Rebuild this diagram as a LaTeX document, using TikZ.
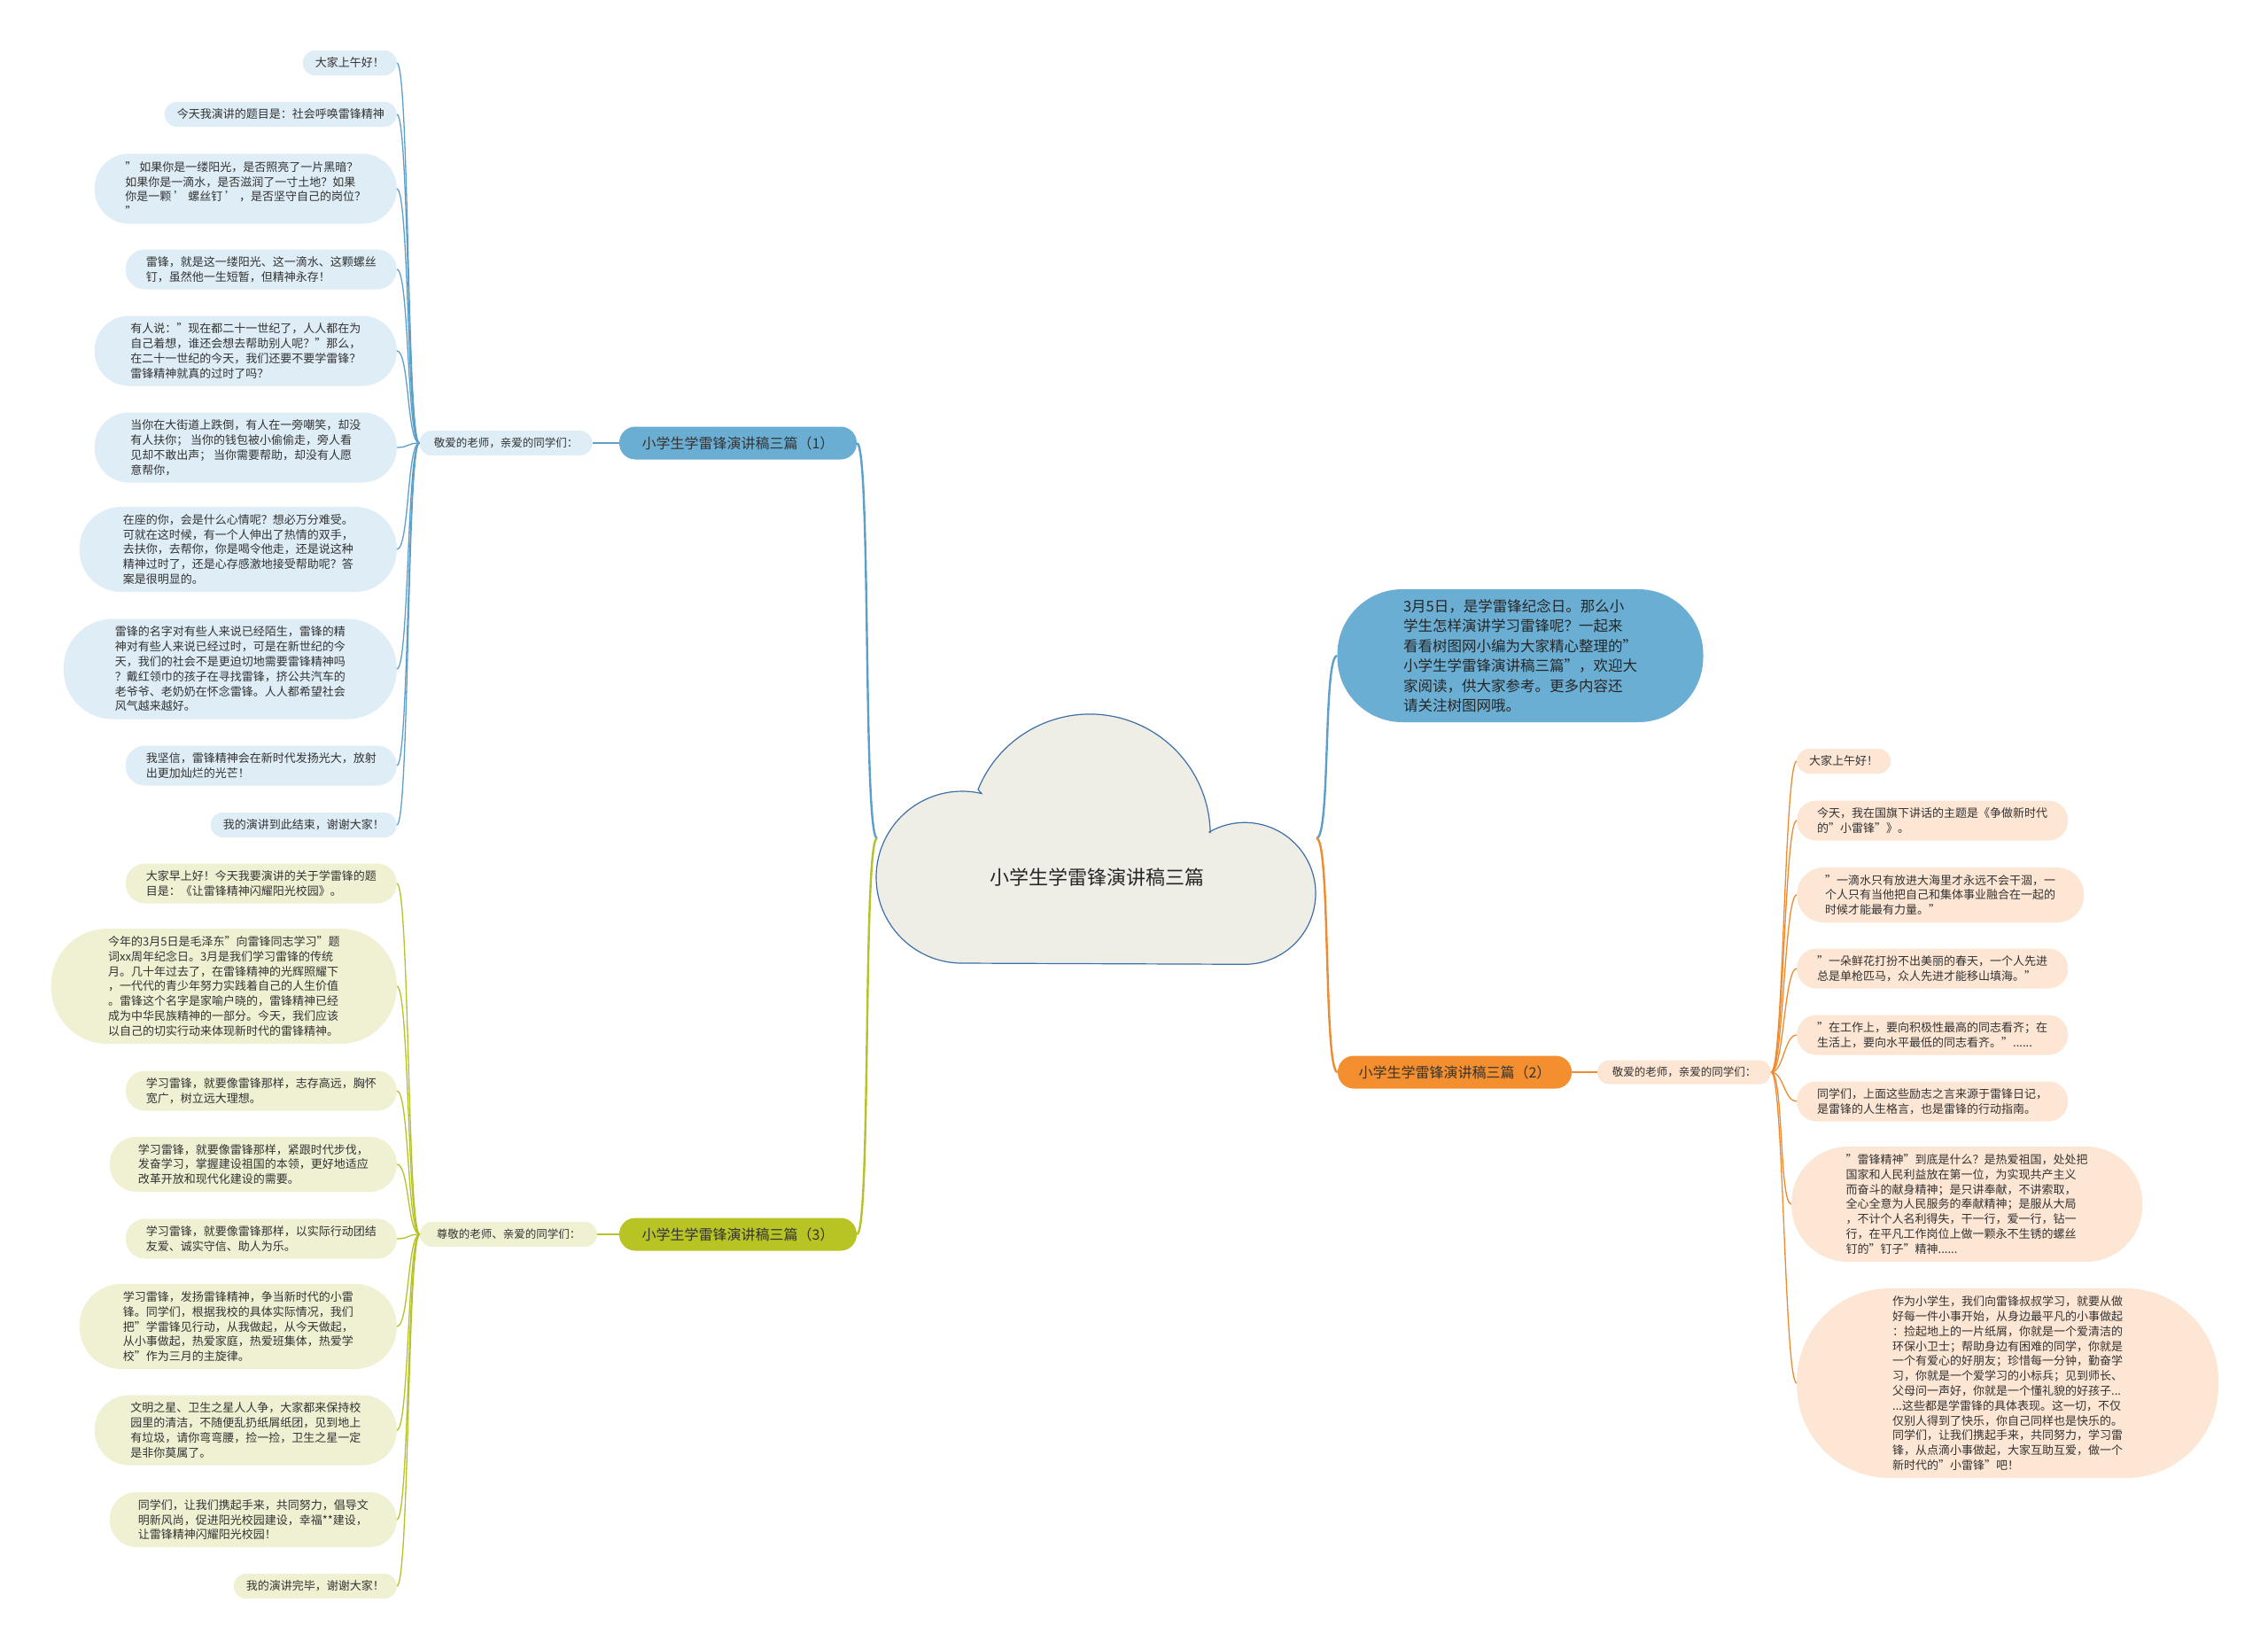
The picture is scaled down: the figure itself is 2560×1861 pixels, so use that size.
\documentclass[tikz,border=0pt]{standalone}
\usepackage{fontspec}
\setmainfont{Noto Sans CJK SC}
\usepackage{xcolor}
\definecolor{skyline}{HTML}{5E9FCA}
\definecolor{skyfill}{HTML}{6BAED3}
\definecolor{skyleaf}{HTML}{DEEDF6}
\definecolor{tangerine}{HTML}{EE8A2F}
\definecolor{tangerinefill}{HTML}{F38F2E}
\definecolor{tangerineleaf}{HTML}{FDE6D4}
\definecolor{limeline}{HTML}{B5C22A}
\definecolor{limefill}{HTML}{B8C424}
\definecolor{limeleaf}{HTML}{F0F1D3}
\definecolor{cloudfill}{HTML}{EFEEE6}
\definecolor{cloudline}{HTML}{3D6FA8}
\definecolor{inkgray}{HTML}{333333}
\usepackage{tikz}

\begin{document}
\begin{tikzpicture}[
    x=1pt, y=-1pt,
    every text node part/.style={align=left},
    sz/.style 2 args={minimum width=#1pt, minimum height=#2pt, rounded corners=#2*0.49pt},
    leaf/.style={inner sep=0pt, font=\fontsize{13pt}{16.8pt}\selectfont, text=inkgray},
    bleaf/.style={leaf, fill=skyleaf, anchor=east},
    oleaf/.style={leaf, fill=tangerineleaf, anchor=west},
    gleaf/.style={leaf, fill=limeleaf, anchor=east},
    greet/.style={leaf, font=\fontsize{12.5pt}{15pt}\selectfont},
    topic/.style={inner sep=0pt, font=\fontsize{16pt}{20pt}\selectfont, text=inkgray},
    twig/.style={line width=1.3pt},
    limb/.style={line width=2.4pt}
]

\path[use as bounding box, fill=white] (0,0) rectangle (2560,1861);

% ==================== ROOT CLOUD ====================
\draw[cloudline, fill=cloudfill, line width=1.2pt] (1086,1087)
    arc[start angle=90, end angle=283, radius=97] -- (1104,891)
    arc[start angle=202, end angle=359, radius=136] -- (1365,939)
    arc[start angle=240, end angle=450, radius=80] -- cycle;
\node[font=\fontsize{22pt}{26pt}\selectfont, text=black!85] (root) at (1238, 990) {小学生学雷锋演讲稿三篇};
\coordinate (rootW) at (990, 946);
\coordinate (rootE) at (1486, 946);

% ==================== INTRO ====================
\node[topic, fill=skyfill, sz={413}{150}, font=\fontsize{16.5pt}{22.4pt}\selectfont, text=black!85] (intro) at (1716, 740) {3月5日，是学雷锋纪念日。那么小\\学生怎样演讲学习雷锋呢？一起来\\看看树图网小编为大家精心整理的"\\小学生学雷锋演讲稿三篇"，欢迎大\\家阅读，供大家参考。更多内容还\\请关注树图网哦。};

% ==================== PART 1 ====================
\node[topic, fill=skyfill, sz={268}{37}] (part1) at (833, 500) {小学生学雷锋演讲稿三篇（1）};
\node[greet, fill=skyleaf, sz={195}{28}] (greet1) at (571, 500) {敬爱的老师，亲爱的同学们：};

\node[bleaf, sz={106}{28}] (first-1) at (448, 71) {大家上午好！};
\node[bleaf, sz={262}{28}] (first-2) at (448, 129) {今天我演讲的题目是：社会呼唤雷锋精神};
\node[bleaf, sz={341}{79}] (first-3) at (448, 213) {" 如果你是一缕阳光，是否照亮了一片黑暗？\\如果你是一滴水，是否滋润了一寸土地？如果\\你是一颗 ' 螺丝钉 ' ，是否坚守自己的岗位？\\"};
\node[bleaf, sz={306}{45}] (first-4) at (448, 304) {雷锋，就是这一缕阳光、这一滴水、这颗螺丝\\钉，虽然他一生短暂，但精神永存！};
\node[bleaf, sz={341}{79}] (first-5) at (448, 396) {有人说："现在都二十一世纪了，人人都在为\\自己着想，谁还会想去帮助别人呢？"那么，\\在二十一世纪的今天，我们还要不要学雷锋？\\雷锋精神就真的过时了吗？};
\node[bleaf, sz={341}{79}] (first-6) at (448, 505) {当你在大街道上跌倒，有人在一旁嘲笑，却没\\有人扶你； 当你的钱包被小偷偷走，旁人看\\见却不敢出声； 当你需要帮助，却没有人愿\\意帮你，};
\node[bleaf, sz={358}{96}] (first-7) at (448, 620) {在座的你，会是什么心情呢？想必万分难受。\\可就在这时候，有一个人伸出了热情的双手，\\去扶你，去帮你，你是喝令他走，还是说这种\\精神过时了，还是心存感激地接受帮助呢？答\\案是很明显的。};
\node[bleaf, sz={376}{113}] (first-8) at (448, 755) {雷锋的名字对有些人来说已经陌生，雷锋的精\\神对有些人来说已经过时，可是在新世纪的今\\天，我们的社会不是更迫切地需要雷锋精神吗\\？戴红领巾的孩子在寻找雷锋，挤公共汽车的\\老爷爷、老奶奶在怀念雷锋。人人都希望社会\\风气越来越好。};
\node[bleaf, sz={306}{45}] (first-9) at (448, 864) {我坚信，雷锋精神会在新时代发扬光大，放射\\出更加灿烂的光芒！};
\node[bleaf, sz={210}{28}] (first-10) at (448, 931) {我的演讲到此结束，谢谢大家！};

% ==================== PART 2 ====================
\node[topic, fill=tangerinefill, sz={264}{37}] (part2) at (1642, 1210) {小学生学雷锋演讲稿三篇（2）};
\node[greet, fill=tangerineleaf, sz={196}{27}] (greet2) at (1901, 1210) {敬爱的老师，亲爱的同学们：};

\node[oleaf, sz={106}{28}] (second-1) at (2028, 859) {大家上午好！};
\node[oleaf, sz={306}{45}] (second-2) at (2028, 926) {今天，我在国旗下讲话的主题是《争做新时代\\的"小雷锋"》。};
\node[oleaf, sz={324}{62}] (second-3) at (2028, 1010) {"一滴水只有放进大海里才永远不会干涸，一\\个人只有当他把自己和集体事业融合在一起的\\时候才能最有力量。"};
\node[oleaf, sz={306}{45}] (second-4) at (2028, 1093) {"一朵鲜花打扮不出美丽的春天，一个人先进\\总是单枪匹马，众人先进才能移山填海。"};
\node[oleaf, sz={306}{45}] (second-5) at (2028, 1168) {"在工作上，要向积极性最高的同志看齐；在\\生活上，要向水平最低的同志看齐。"......};
\node[oleaf, sz={306}{45}] (second-6) at (2028, 1243) {同学们，上面这些励志之言来源于雷锋日记，\\是雷锋的人生格言，也是雷锋的行动指南。};
\node[oleaf, sz={396}{130}] (second-7) at (2022, 1359) {"雷锋精神"到底是什么？是热爱祖国，处处把\\国家和人民利益放在第一位，为实现共产主义\\而奋斗的献身精神；是只讲奉献，不讲索取，\\全心全意为人民服务的奉献精神；是服从大局\\，不计个人名利得失，干一行，爱一行，钻一\\行，在平凡工作岗位上做一颗永不生锈的螺丝\\钉的"钉子"精神......};
\node[oleaf, sz={476}{214}] (second-8) at (2028, 1561) {作为小学生，我们向雷锋叔叔学习，就要从做\\好每一件小事开始，从身边最平凡的小事做起\\：捡起地上的一片纸屑，你就是一个爱清洁的\\环保小卫士；帮助身边有困难的同学，你就是\\一个有爱心的好朋友；珍惜每一分钟，勤奋学\\习，你就是一个爱学习的小标兵；见到师长、\\父母问一声好，你就是一个懂礼貌的好孩子...\\...这些都是学雷锋的具体表现。这一切，不仅\\仅别人得到了快乐，你自己同样也是快乐的。\\同学们，让我们携起手来，共同努力，学习雷\\锋，从点滴小事做起，大家互助互爱，做一个\\新时代的"小雷锋"吧！};

% ==================== PART 3 ====================
\node[topic, fill=limefill, sz={268}{37}] (part3) at (833, 1393) {小学生学雷锋演讲稿三篇（3）};
\node[greet, fill=limeleaf, sz={200}{28}] (greet3) at (574, 1393) {尊敬的老师、亲爱的同学们：};

\node[gleaf, sz={306}{45}] (third-1) at (448, 997) {大家早上好！今天我要演讲的关于学雷锋的题\\目是：《让雷锋精神闪耀阳光校园》。};
\node[gleaf, sz={390}{130}] (third-2) at (448, 1113) {今年的3月5日是毛泽东"向雷锋同志学习"题\\词xx周年纪念日。3月是我们学习雷锋的传统\\月。几十年过去了，在雷锋精神的光辉照耀下\\，一代代的青少年努力实践着自己的人生价值\\。雷锋这个名字是家喻户晓的，雷锋精神已经\\成为中华民族精神的一部分。今天，我们应该\\以自己的切实行动来体现新时代的雷锋精神。};
\node[gleaf, sz={306}{45}] (third-3) at (448, 1231) {学习雷锋，就要像雷锋那样，志存高远，胸怀\\宽广，树立远大理想。};
\node[gleaf, sz={324}{62}] (third-4) at (448, 1314) {学习雷锋，就要像雷锋那样，紧跟时代步伐，\\发奋学习，掌握建设祖国的本领，更好地适应\\改革开放和现代化建设的需要。};
\node[gleaf, sz={306}{45}] (third-5) at (448, 1398) {学习雷锋，就要像雷锋那样，以实际行动团结\\友爱、诚实守信、助人为乐。};
\node[gleaf, sz={358}{96}] (third-6) at (448, 1497) {学习雷锋，发扬雷锋精神，争当新时代的小雷\\锋。同学们，根据我校的具体实际情况，我们\\把"学雷锋见行动，从我做起，从今天做起，\\从小事做起，热爱家庭，热爱班集体，热爱学\\校"作为三月的主旋律。};
\node[gleaf, sz={341}{79}] (third-7) at (448, 1614) {文明之星、卫生之星人人争，大家都来保持校\\园里的清洁，不随便乱扔纸屑纸团，见到地上\\有垃圾，请你弯弯腰，捡一捡，卫生之星一定\\是非你莫属了。};
\node[gleaf, sz={324}{62}] (third-8) at (448, 1715) {同学们，让我们携起手来，共同努力，倡导文\\明新风尚，促进阳光校园建设，幸福**建设，\\让雷锋精神闪耀阳光校园！};
\node[gleaf, sz={184}{28}] (third-9) at (448, 1790) {我的演讲完毕，谢谢大家！};

% ==================== CONNECTORS ====================
\draw[limb, skyline] (rootW) .. controls +(-16,0) and +(16,0) .. (part1.east);
\draw[limb, limeline] (rootW) .. controls +(-16,0) and +(16,0) .. (part3.east);
\draw[limb, skyline] (rootE) .. controls +(16,0) and +(-16,0) .. (intro.west);
\draw[limb, tangerine] (rootE) .. controls +(16,0) and +(-16,0) .. (part2.west);

\draw[limb, skyline] (part1.west) -- (greet1.east);
\draw[limb, tangerine] (part2.east) -- (greet2.west);
\draw[limb, limeline] (part3.west) -- (greet3.east);

\foreach \n in {1,...,10}
    \draw[twig, skyline] (greet1.west) .. controls +(-14,0) and +(14,0) .. (first-\n.east);
\foreach \n in {1,...,8}
    \draw[twig, tangerine] (greet2.east) .. controls +(14,0) and +(-14,0) .. (second-\n.west);
\foreach \n in {1,...,9}
    \draw[twig, limeline] (greet3.west) .. controls +(-14,0) and +(14,0) .. (third-\n.east);

\end{tikzpicture}
\end{document}
